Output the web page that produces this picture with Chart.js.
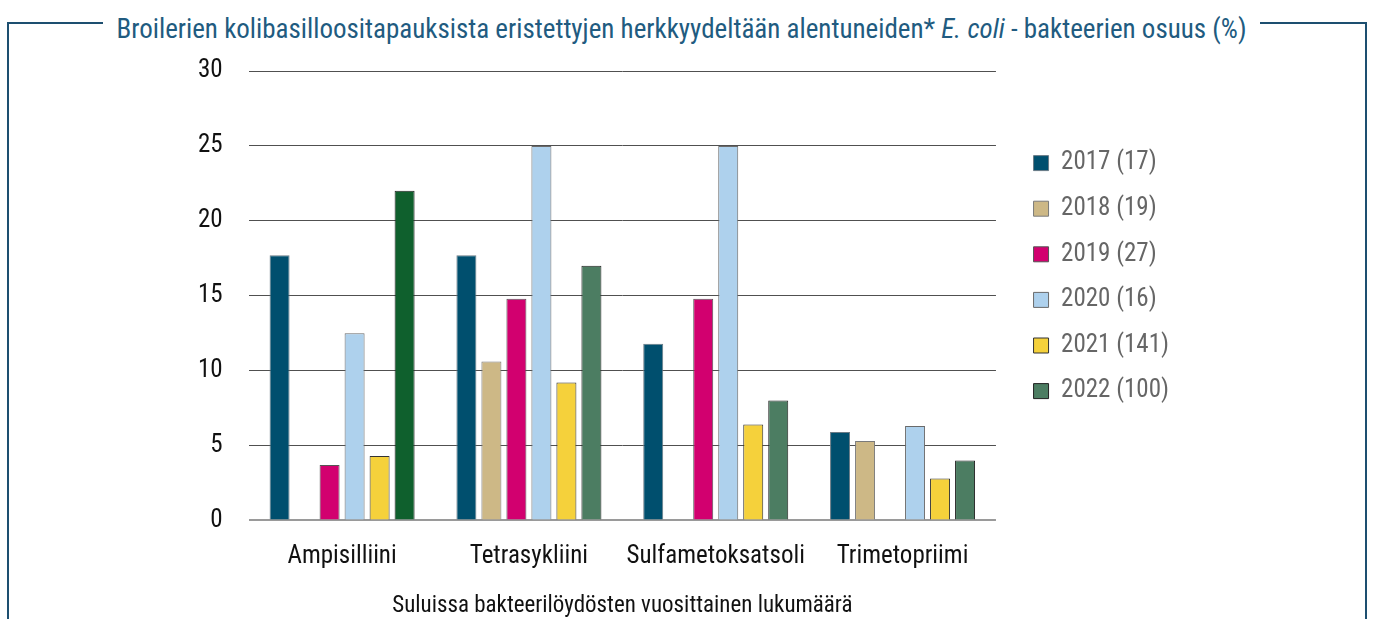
<!DOCTYPE html>
<html lang="fi">
<head>
<meta charset="utf-8">
<script src="https://cdn.jsdelivr.net/npm/chart.js@4"></script>
<style>
  html, body { margin: 0; padding: 0; background: #fff; }
  body { width: 1373px; height: 619px; position: relative; overflow: hidden;
         font-family: 'Roboto Condensed', 'Liberation Sans Narrow', Roboto, sans-serif; }
  #wrap { position: absolute; left: 0; top: 0; width: 1373px; height: 619px; }
  #frame { position: absolute; left: 7px; top: 22px; width: 1356px; height: 640px;
           border: 2px solid #1d4f70; border-bottom: none; pointer-events: none; }
  #title { position: absolute; left: 0; right: 10px; top: 14px; text-align: center;
           line-height: 30px; pointer-events: none; }
  #title span { background: #fff; padding: 0 13px; color: #215b80; font-size: 27px; }
</style>
</head>
<body>
<div id="wrap"><canvas id="chart"></canvas></div>
<div id="frame"></div>
<div id="title"><span>Broilerien kolibasilloositapauksista eristettyjen herkkyydeltään alentuneiden* <i>E. coli</i> - bakteerien osuus (%)</span></div>
<script>
// Kategoriat ja vuosisarjat
const antibiotics = ['Ampisilliini', 'Tetrasykliini', 'Sulfametoksatsoli', 'Trimetopriimi'];
const yearLabels = ['2017 (17)', '2018 (19)', '2019 (27)', '2020 (16)', '2021 (141)', '2022 (100)'];

const values2017 = [17.7, 17.7, 11.8, 5.9];
const values2018 = [null, 10.6, null, 5.3];
const values2019 = [3.7, 14.8, 14.8, null];
const values2020 = [12.5, 25, 25, 6.3];
const values2021 = [4.3, 9.2, 6.4, 2.8];
const values2022 = [22, 17, 8, 4];

const yTicks = [0, 5, 10, 15, 20, 25, 30];
const axisTitle = 'Suluissa bakteerilöydösten vuosittainen lukumäärä';

const FONT = "'Roboto Condensed', 'Liberation Sans Narrow', Roboto, sans-serif";

function makeDataset(label, data, fill, border) {
    return {
        label: label,
        data: data,
        backgroundColor: fill,
        borderColor: border,
        borderWidth: 1,
        borderSkipped: 'bottom',
        categoryPercentage: 0.803,
        barPercentage: 0.8
    };
}

const datasets = [
    makeDataset(yearLabels[0], values2017, '#004f6e', '#6b7b86'),
    makeDataset(yearLabels[1], values2018, '#cdb886', '#7a7a7a'),
    makeDataset(yearLabels[2], values2019, '#d2006f', '#555555'),
    makeDataset(yearLabels[3], values2020, '#aed1ed', '#6a6a6a'),
    makeDataset(yearLabels[4], values2021, '#f5d13b', '#333333'),
    makeDataset(yearLabels[5], values2022, ['#0f602d', '#4c7d62', '#4c7d62', '#4c7d62'], '#222222')
];

const ctx = document.getElementById('chart');

new Chart(ctx, {
    type: 'bar',
    data: { labels: antibiotics, datasets: datasets },
    options: {
        responsive: true,
        maintainAspectRatio: false,
        animation: false,
        layout: { padding: { left: 172, top: 71, right: 194, bottom: -1 } },
        plugins: {
            legend: {
                position: 'right',
                align: 'start',
                title: { display: true, text: ' ', font: { size: 20 }, padding: { top: 35, bottom: 0 } },
                labels: {
                    boxWidth: 15,
                    boxHeight: 15,
                    padding: 20.6,
                    color: '#111',
                    font: { family: FONT, size: 25 },
                    generateLabels: function(chart) {
                        return chart.data.datasets.map((ds, i) => ({
                            text: ds.label,
                            fillStyle: Array.isArray(ds.backgroundColor) ? ds.backgroundColor[1] : ds.backgroundColor,
                            strokeStyle: ds.borderColor,
                            lineWidth: 1,
                            hidden: false,
                            datasetIndex: i
                        }));
                    }
                }
            },
            tooltip: { enabled: false }
        },
        scales: {
            x: {
                grid: { display: false, drawTicks: false },
                border: { display: false },
                ticks: { color: '#111', padding: 21, font: { family: FONT, size: 25 } },
                title: {
                    display: true,
                    text: axisTitle,
                    color: '#111',
                    padding: { top: 0, bottom: 0 },
                    font: { family: FONT, size: 23 }
                }
            },
            y: {
                min: 0,
                max: 30,
                afterBuildTicks: function(scale) {
                    scale.ticks = yTicks.map(v => ({ value: v }));
                },
                grid: {
                    drawTicks: false,
                    lineWidth: c => c.tick && c.tick.value === 0 ? 2 : 1,
                    color: c => c.tick && c.tick.value === 0 ? '#9a9a9a' : '#505050'
                },
                border: { display: false },
                ticks: { color: '#111', padding: 26, font: { family: FONT, size: 25 } }
            },
            spacer: {
                position: 'right',
                display: true,
                grid: { display: false },
                border: { display: false },
                ticks: { display: false },
                afterFit: function(scale) { scale.width = 17; }
            }
        }
    }
});
</script>
</body>
</html>
